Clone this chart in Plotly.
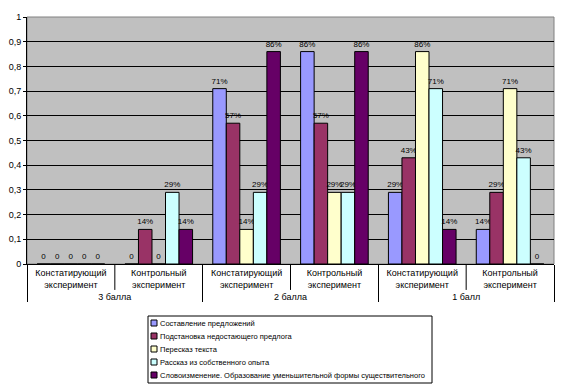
import plotly.graph_objects as go

super_groups = ["3 балла", "3 балла", "2 балла", "2 балла", "1 балл", "1 балл"]
sub_groups = ["Констатирующий<br>эксперимент", "Контрольный<br>эксперимент"] * 3

series_names = [
    "Составление предложений",
    "Подстановка недостающего предлога",
    "Пересказ текста",
    "Рассказ из собственного опыта",
    "Словоизменение. Образование уменьшительной формы существительного",
]
s1 = [0, 0, 0.71, 0.86, 0.29, 0.14]
s2 = [0, 0.14, 0.57, 0.57, 0.43, 0.29]
s3 = [0, 0, 0.14, 0.29, 0.86, 0.71]
s4 = [0, 0.29, 0.29, 0.29, 0.71, 0.43]
s5 = [0, 0.14, 0.86, 0.86, 0.14, 0]
series = [s1, s2, s3, s4, s5]
colors = ["#9999FF", "#993366", "#FFFFCC", "#CCFFFF", "#660066"]

FONT = "Liberation Sans Narrow, Liberation Sans, Arial"

fig = go.Figure()
for name, vals, col in zip(series_names, series, colors):
    fig.add_trace(go.Bar(
        x=[super_groups, sub_groups],
        y=vals,
        name=name,
        marker=dict(color=col, line=dict(color="black", width=1)),
        text=["0" if v == 0 else f"{round(v*100)}%" for v in vals],
        textposition="outside",
        constraintext="none",
        textfont=dict(family=FONT, size=8, color="black"),
        cliponaxis=False,
        showlegend=False,
    ))

fig.update_layout(
    width=564, height=388,
    margin=dict(l=27, r=10, t=17, b=124, autoexpand=False),
    paper_bgcolor="white",
    plot_bgcolor="#C0C0C0",
    separators=", ",
    barmode="group",
    bargap=0.23,
    bargroupgap=0,
    font=dict(family=FONT, size=9, color="black"),
    showlegend=False,
)
fig.update_yaxes(
    range=[0, 1], dtick=0.1, tick0=0,
    showgrid=True, gridcolor="black", gridwidth=1,
    showline=True, linecolor="black", linewidth=1,
    ticks="outside", ticklen=3, tickcolor="black",
    tickfont=dict(family=FONT, size=9),
    zeroline=False,
)
fig.update_xaxes(
    type="multicategory",
    showline=True, linecolor="black", linewidth=1,
    showdividers=True, dividercolor="black", dividerwidth=1,
    tickfont=dict(family=FONT, size=9),
    showgrid=False,
)
# plot area border (gray)
fig.add_shape(type="rect", xref="paper", yref="paper", x0=0, x1=1, y0=0, y1=1,
              line=dict(color="#808080", width=1), layer="below")
# dividers between sub-categories inside each super group
for k in (1, 3, 5):
    fig.add_shape(type="line", xref="paper", yref="paper", x0=k / 6, x1=k / 6,
                  y0=0, y1=-0.105, line=dict(color="black", width=1))

# manual compact legend (Excel style)
lx0, lx1 = (148 - 27) / 527, (432 - 27) / 527
ly0, ly1 = (264 - 316) / 247, (264 - 383) / 247
fig.add_shape(type="rect", xref="paper", yref="paper", x0=lx0, x1=lx1, y0=ly0, y1=ly1,
              line=dict(color="black", width=1), fillcolor="white")
for i, (name, col) in enumerate(zip(series_names, colors)):
    yc = (264 - 323 - 13 * i) / 247
    sx = (151 - 27) / 527
    sw = 6 / 527
    sh = 6 / 247
    fig.add_shape(type="rect", xref="paper", yref="paper",
                  x0=sx, x1=sx + sw, y0=yc - sh / 2, y1=yc + sh / 2,
                  line=dict(color="black", width=1), fillcolor=col)
    fig.add_annotation(xref="paper", yref="paper", x=sx + sw + 1 / 527, y=yc,
                       text=name, showarrow=False, xanchor="left", yanchor="middle",
                       font=dict(family=FONT, size=7.5, color="black"))
fig.write_html("out.html", post_script="document.body.style.margin='0';",
               config={"displayModeBar": False})
